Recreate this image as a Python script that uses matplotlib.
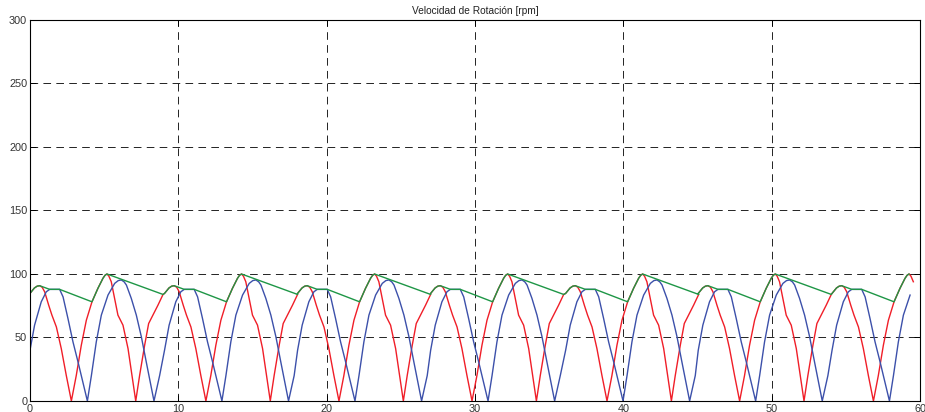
import numpy as np
import matplotlib.pyplot as plt

plt.rcParams['font.family'] = ['Liberation Sans', 'DejaVu Sans']
plt.rcParams['lines.scale_dashes'] = False

# one revolution cycle, time in s measured from the start of the cycle
red_s = [0.0, 0.3, 0.48, 0.65, 0.82, 0.99, 1.26, 1.48, 1.78, 2.11, 2.45, 2.79, 3.12, 3.46,
         3.80, 4.18, 4.58, 4.92, 5.06, 5.19, 5.32, 5.48, 5.75, 5.93, 6.27, 6.61, 6.88, 7.13,
         7.39, 7.73, 8.0, 8.29, 8.63, 8.97]
red_v = [84.7, 89.0, 90.4, 90.8, 89.6, 86.0, 75.5, 67.6, 58.3, 41.3, 20.0, 0.0, 20.0, 43.9,
         63.6, 78.1, 88.7, 96.6, 99.0, 100.0, 98.3, 93.9, 78.1, 67.6, 59.7, 41.3, 20.0, 0.0,
         20.0, 43.9, 61.0, 67.6, 75.5, 83.9]

blue_s = [0.0, 0.31, 0.76, 1.1, 1.33, 2.0, 2.23, 2.56, 2.9, 3.24, 3.87, 4.14, 4.47, 4.81,
          5.26, 5.71, 5.95, 6.16, 6.35, 6.5, 6.83, 7.17, 7.51, 7.84, 8.36, 8.74]
blue_v = [39.9, 59.7, 78.1, 86.0, 87.9, 87.9, 82.0, 65.0, 46.5, 30.7, 0.0, 20.0, 46.5, 67.6,
          83.4, 92.6, 94.8, 95.3, 93.8, 91.3, 80.8, 67.6, 50.5, 30.7, 0.0, 20.0]

# envelope (peak hold)
green_s = [0.0, 0.3, 0.48, 0.65, 1.33, 2.0, 4.18, 4.58, 4.92, 5.06, 5.19, 8.97]
green_v = [84.7, 89.0, 90.4, 90.8, 87.9, 87.9, 78.1, 88.7, 96.6, 99.0, 100.0, 83.9]

# time of the 100 rpm peak in every cycle, and end of the record
peak_times = [5.19, 14.26, 23.23, 32.20, 41.30, 50.24, 59.26]
peak_offset = 5.19
t_end = 59.6


def build(s, v):
    t_all, v_all = [], []
    for p in peak_times:
        t0 = p - peak_offset
        for si, vi in zip(s, v):
            if t0 + si <= t_end:
                t_all.append(t0 + si)
                v_all.append(vi)
    return np.array(t_all), np.array(v_all)


t_r, v_r = build(red_s, red_v)
t_b, v_b = build(blue_s, blue_v)
t_g, v_g = build(green_s, green_v)

fig = plt.figure(figsize=(9.25, 4.12), dpi=100)
ax = fig.add_axes([0.0324, 0.0267, 0.9622, 0.9248])

ax.plot(t_r, v_r, color='#f01e28', lw=1.0)
ax.plot(t_b, v_b, color='#3c50aa', lw=1.0)
ax.plot(t_g, v_g, color='#1e9646', lw=1.0)

ax.set_xlim(0, 60)
ax.set_ylim(0, 300)
ax.set_xticks(np.arange(0, 61, 10))
ax.set_yticks(np.arange(0, 301, 50))
ax.grid(True, color='#222222', linestyle=(0, (5.5, 3.8)), linewidth=0.7)
ax.tick_params(direction='in', length=4, width=0.7, labelsize=7.8, pad=2,
               top=True, right=True, colors='black', labelcolor='#333333')
for sp in ax.spines.values():
    sp.set_linewidth(0.8)

ax.set_title('Velocidad de Rotación [rpm]', fontsize=7.3, pad=4, color='#222222')

fig.savefig('out.png', dpi=100)
